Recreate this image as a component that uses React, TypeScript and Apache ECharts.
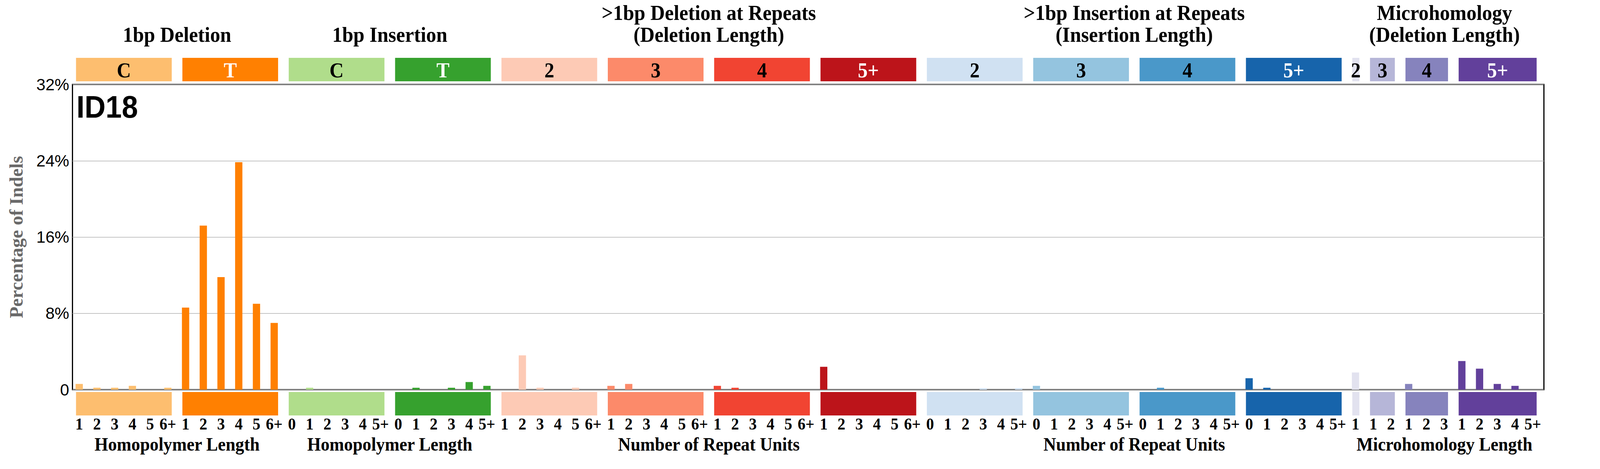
import { useEffect, useRef } from "react";
import * as echarts from "echarts";

// bar heights (% of indels), one array per coloured block
const delC = [0.6, 0.2, 0.2, 0.4, 0, 0.2];
const delT = [8.6, 17.2, 11.8, 23.85, 9.0, 7.0];
const insC = [0, 0.2, 0, 0, 0, 0];
const insT = [0, 0.2, 0, 0.2, 0.8, 0.4];
const delRep2 = [0, 3.6, 0.2, 0, 0.2, 0];
const delRep3 = [0.4, 0.6, 0, 0, 0, 0];
const delRep4 = [0.4, 0.2, 0, 0, 0, 0];
const delRep5 = [2.4, 0, 0, 0, 0, 0];
const insRep2 = [0, 0, 0, 0.15, 0, 0.15];
const insRep3 = [0.4, 0, 0, 0, 0, 0];
const insRep4 = [0, 0.2, 0, 0, 0, 0];
const insRep5 = [1.2, 0.2, 0, 0, 0, 0];
const mh2 = [1.8];
const mh3 = [0, 0];
const mh4 = [0.6, 0, 0];
const mh5 = [3.0, 2.2, 0.6, 0.4, 0];

const groupValues = [
  delC, delT, insC, insT,
  delRep2, delRep3, delRep4, delRep5,
  insRep2, insRep3, insRep4, insRep5,
  mh2, mh3, mh4, mh5,
];

const groupLabels = ["C", "T", "C", "T", "2", "3", "4", "5+", "2", "3", "4", "5+", "2", "3", "4", "5+"];
const groupColors = [
  "#FDBE6F", "#FF8001", "#B0DD8B", "#36A12E",
  "#FDCAB5", "#FC8A6A", "#F14432", "#BC141A",
  "#D0E1F2", "#94C4DF", "#4A98C9", "#1764AB",
  "#E2E2EF", "#B6B6D8", "#8683BD", "#62409B",
];
const groupTextColors = [
  "#000", "#fff", "#000", "#fff",
  "#000", "#000", "#000", "#fff",
  "#000", "#000", "#000", "#fff",
  "#000", "#000", "#000", "#fff",
];

const homoDelTicks = ["1", "2", "3", "4", "5", "6+"];
const homoInsTicks = ["0", "1", "2", "3", "4", "5+"];
const groupTicks = [
  homoDelTicks, homoDelTicks, homoInsTicks, homoInsTicks,
  homoDelTicks, homoDelTicks, homoDelTicks, homoDelTicks,
  homoInsTicks, homoInsTicks, homoInsTicks, homoInsTicks,
  ["1"], ["1", "2"], ["1", "2", "3"], ["1", "2", "3", "4", "5+"],
];

const sectionTitles = [
  ["1bp Deletion"],
  ["1bp Insertion"],
  [">1bp Deletion at Repeats", "(Deletion Length)"],
  [">1bp Insertion at Repeats", "(Insertion Length)"],
  ["Microhomology", "(Deletion Length)"],
];
const sectionAxisTitles = [
  "Homopolymer Length",
  "Homopolymer Length",
  "Number of Repeat Units",
  "Number of Repeat Units",
  "Microhomology Length",
];
const sectionGroups = [[0, 1], [2, 3], [4, 7], [8, 11], [12, 15]];

const SERIF = "Liberation Serif";
const SANS = "Liberation Sans";
const PAD_L = 0.18;
const PAD_R = 0.22;
const REF_W = 4393; // layout was measured on a 4393px wide picture

export default function App() {
  const chartRef = useRef<HTMLDivElement>(null);

  useEffect(() => {
    if (!chartRef.current) return;
    const chart = echarts.init(chartRef.current, null, { renderer: "svg" });
    // the browser may be narrower than the reference: squeeze horizontally
    const sx = Math.min(1, chart.getWidth() / REF_W);

    // flatten groups into bar list
    const bars: { i: number; v: number; g: number; tick: string }[] = [];
    const groupRanges: number[][] = [];
    groupValues.forEach((vals, g) => {
      const start = bars.length;
      vals.forEach((v, k) => bars.push({ i: bars.length, v, g, tick: groupTicks[g][k] }));
      groupRanges.push([start, bars.length - 1, g]);
    });
    const sectionRanges = sectionGroups.map(([a, b], s) => [groupRanges[a][0], groupRanges[b][1], s]);

    const serifText = (text: string, size: number, fill = "#000") => ({
      text,
      fill,
      fontFamily: SERIF,
      fontWeight: "bold",
      fontSize: size,
      align: "center",
      verticalAlign: "middle",
    });

    const option: echarts.EChartsOption = {
      animation: false,
      backgroundColor: "#fff",
      grid: {
        left: 199 * sx,
        top: 216,
        width: 4040 * sx,
        height: 781,
        show: true,
        borderColor: "#000",
        borderWidth: 3,
        containLabel: false,
      },
      xAxis: {
        type: "value",
        min: -0.38,
        max: 82.63,
        axisLine: { show: false },
        axisTick: { show: false },
        axisLabel: { show: false },
        splitLine: { show: false },
      },
      yAxis: {
        type: "value",
        min: 0,
        max: 32,
        interval: 8,
        name: "Percentage of Indels",
        nameLocation: "middle",
        nameGap: 129 * sx,
        nameRotate: 90,
        nameTextStyle: { fontFamily: SERIF, fontWeight: "bold", fontSize: 48, color: "#696969" },
        axisLine: { show: false },
        axisTick: { show: false },
        axisLabel: {
          fontFamily: SANS,
          fontSize: 42,
          color: "#000",
          margin: 9 * sx,
          formatter: (v: number) => (v === 0 ? "0" : `${v}%`),
        },
        splitLine: { show: true, lineStyle: { color: "#b0b0b0", width: 1.5 } },
      },
      graphic: [
        {
          type: "text",
          x: 210 * sx,
          y: 273,
          scaleX: sx,
          style: {
            text: "ID18",
            fontFamily: SANS,
            fontWeight: "bold",
            fontSize: 80,
            fill: "#000",
            verticalAlign: "middle",
          },
        },
      ],
      series: [
        {
          type: "bar",
          barWidth: 20 * sx,
          data: bars.map((b) => [b.i, b.v]),
          itemStyle: { color: (p: any) => groupColors[bars[p.dataIndex].g] },
          z: 1,
        },
        {
          // coloured blocks above and below the plot
          type: "custom",
          clip: false,
          silent: true,
          encode: { x: [0, 1], y: 2 },
          data: groupRanges,
          renderItem: (params: any, api: any) => {
            const cs = params.coordSys;
            const g = api.value(2) as number;
            const x0 = api.coord([api.value(0) - PAD_L, 0])[0];
            const x1 = api.coord([api.value(1) + PAD_R, 0])[0];
            return {
              type: "group",
              children: [
                { type: "rect", shape: { x: x0, y: cs.y - 68, width: x1 - x0, height: 60 }, style: { fill: groupColors[g] } },
                {
                  type: "text",
                  x: (x0 + x1) / 2,
                  y: cs.y - 37,
                  scaleX: sx,
                  style: serifText(groupLabels[g], 54, groupTextColors[g]),
                },
                { type: "rect", shape: { x: x0, y: cs.y + cs.height + 6, width: x1 - x0, height: 60 }, style: { fill: groupColors[g] } },
              ],
            };
          },
        },
        {
          // tick labels under each bar
          type: "custom",
          clip: false,
          silent: true,
          data: bars.map((b) => [b.i, 0]),
          renderItem: (params: any, api: any) => {
            const cs = params.coordSys;
            const x = api.coord([api.value(0), 0])[0];
            return {
              type: "text",
              x,
              y: cs.y + cs.height + 88,
              scaleX: sx,
              style: serifText(bars[params.dataIndex].tick, 43),
            };
          },
        },
        {
          // section titles and bottom axis titles
          type: "custom",
          clip: false,
          silent: true,
          encode: { x: [0, 1], y: 2 },
          data: sectionRanges,
          renderItem: (params: any, api: any) => {
            const cs = params.coordSys;
            const s = api.value(2) as number;
            const x0 = api.coord([api.value(0) - PAD_L, 0])[0];
            const x1 = api.coord([api.value(1) + PAD_R, 0])[0];
            const cx = (x0 + x1) / 2;
            const lines = sectionTitles[s];
            const children: any[] = lines.map((t, k) => ({
              type: "text",
              x: cx,
              y: cs.y - 128 - (lines.length - 1 - k) * 56,
              scaleX: sx,
              style: serifText(t, 55),
            }));
            children.push({
              type: "text",
              x: cx,
              y: cs.y + cs.height + 140,
              scaleX: sx,
              style: serifText(sectionAxisTitles[s], 48),
            });
            return { type: "group", children };
          },
        },
      ],
    };

    chart.setOption(option);
    return () => chart.dispose();
  }, []);

  return (
    <div
      ref={chartRef}
      style={{ position: "absolute", left: 0, top: 0, width: "100vw", height: "100vh" }}
    />
  );
}
